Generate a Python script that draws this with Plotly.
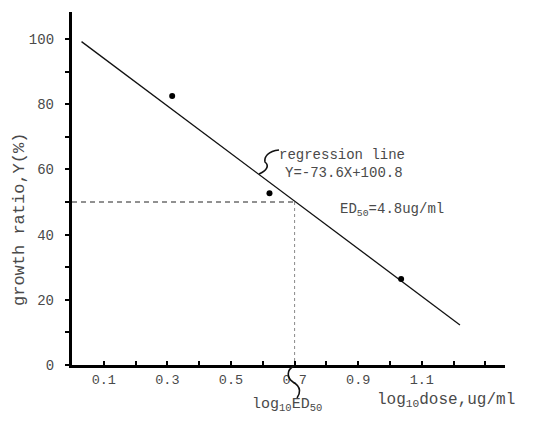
import plotly.graph_objects as go

# ---- data ----
log_dose = [0.315, 0.621, 1.035]          # log10 dose, ug/ml
growth_ratio = [82.5, 52.7, 26.4]         # growth ratio Y (%)

reg_line_x = [0.03, 1.22]                 # regression line extent
reg_line_y = [99.2, 12.3]                 # Y = -73.6X + 100.8 (as drawn)

ed50_log = 0.70                           # log10 ED50
ed50_y = 50

x_tick_vals = [0.1, 0.2, 0.3, 0.4, 0.5, 0.6, 0.7, 0.8, 0.9, 1.0, 1.1, 1.2, 1.3]
x_tick_text = ["0.1", "", "0.3", "", "0.5", "", "0.7", "", "0.9", "", "1.1", "", ""]
y_tick_vals = [0, 10, 20, 30, 40, 50, 60, 70, 80, 90, 100]
y_tick_text = ["0", "", "20", "", "40", "", "60", "", "80", "", "100"]

OFF = 8                      # page body margin
W, H = 525, 414
L, R, T, B = 64, 28, 4, 57
PW, PH = W - L - R, H - T - B

FONT = "Liberation Mono, Courier New, monospace"
TXT = "#4a4a4a"
NBSP = "\u00a0"


def px(xp, yp):
    """screen pixel position -> paper coordinates (for decorations only)"""
    return (xp - OFF - L) / PW, (H - B - (yp - OFF)) / PH


fig = go.Figure()

# dashed guides to ED50
fig.add_trace(go.Scatter(x=[0, ed50_log], y=[ed50_y, ed50_y], mode="lines",
                         line=dict(color="#222", width=1, dash="5px,4px"),
                         hoverinfo="skip", showlegend=False))
fig.add_trace(go.Scatter(x=[ed50_log, ed50_log], y=[ed50_y, 0], mode="lines",
                         line=dict(color="#888", width=1, dash="3px,3px"),
                         hoverinfo="skip", showlegend=False))

# regression line
fig.add_trace(go.Scatter(x=reg_line_x, y=reg_line_y, mode="lines",
                         line=dict(color="#111", width=1.3),
                         showlegend=False))

# data points
fig.add_trace(go.Scatter(x=log_dose, y=growth_ratio, mode="markers",
                         marker=dict(color="#000", size=6),
                         showlegend=False))


def curve(pts):
    s = "M {} {}".format(*pts[0])
    for i in range(1, len(pts), 3):
        s += " C {} {}, {} {}, {} {}".format(*pts[i], *pts[i + 1], *pts[i + 2])
    return s


# squiggle pointing to regression line
p = [px(279, 150), px(268, 151), px(264, 157), px(265, 162), px(270, 166),
     px(266, 171), px(259, 174)]
# squiggle to log10 ED50
q = [px(294, 366), px(286, 370), px(287, 378), px(293, 382), px(302, 387),
     px(300, 394), px(297, 398)]
fig.update_layout(shapes=[
    dict(type="path", path=curve(p), xref="paper", yref="paper",
         line=dict(color="#111", width=1.6)),
    dict(type="path", path=curve(q), xref="paper", yref="paper",
         line=dict(color="#111", width=1.6)),
])


def ann(text, xp, yp, size=13, angle=0, xanchor="left"):
    ax, ay = px(xp, yp)
    return dict(text=text, x=ax, y=ay, xref="paper", yref="paper",
                xanchor=xanchor, yanchor="middle", showarrow=False,
                textangle=angle, font=dict(family=FONT, size=size, color=TXT))


fig.update_layout(annotations=[
    ann("regression line", 277, 155, size=14),
    ann("Y=-73.6X+100.8", 283, 173, size=14),
    ann("ED<sub>50</sub>=4.8ug/ml", 338, 210, size=14),
    ann("log<sub>10</sub>ED<sub>50</sub>", 250, 405, size=15),
    ann("log<sub>10</sub>dose,ug/ml", 375, 400, size=16),
    ann("growth ratio,Y(%)", 19, 220, size=17, angle=-90, xanchor="center"),
])

fig.update_xaxes(range=[0, PW / 318], showline=True, linecolor="#000",
                 linewidth=2.5, showgrid=False, zeroline=False,
                 tickmode="array", tickvals=x_tick_vals, ticktext=x_tick_text,
                 ticks="inside", ticklen=4, tickcolor="#000", tickwidth=1.5,
                 tickfont=dict(family=FONT, size=13.5, color=TXT))
fig.update_yaxes(range=[0, PH / 3.26], showline=True, linecolor="#000",
                 linewidth=2.5, showgrid=False, zeroline=False,
                 tickmode="array", tickvals=y_tick_vals,
                 ticktext=[t + NBSP if t else t for t in y_tick_text],
                 ticks="outside", ticklen=4, tickcolor="#000", tickwidth=1.5,
                 tickfont=dict(family=FONT, size=14, color=TXT))

fig.update_layout(width=W, height=H, margin=dict(l=L, r=R, t=T, b=B),
                  plot_bgcolor="white", paper_bgcolor="white",
                  showlegend=False)

fig.write_html("out.html")
